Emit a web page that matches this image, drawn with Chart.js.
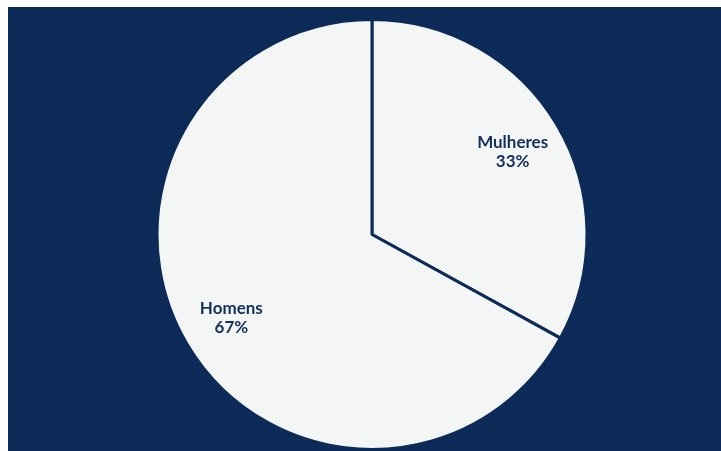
<!DOCTYPE html>
<html>
<head>
<meta charset="utf-8">
<script src="https://cdn.jsdelivr.net/npm/chart.js@4.4.0/dist/chart.umd.min.js"></script>
<style>
    html, body { margin: 0; padding: 0; background: #ffffff; }
    #wrap {
        position: absolute;
        left: 8px;
        top: 7px;
        width: 713px;
        height: 444px;
        background: #0c2b58;
    }
</style>
</head>
<body>
<div id="wrap"><canvas id="genderChart"></canvas></div>
<script>
// --- Data ---
const labels = ['Mulheres', 'Homens'];
const shares = [33, 67];

const navy = '#0c2b58';
const sliceFill = '#f4f6f6';

// Draws "name / pct%" inside each slice, along the slice's mid angle
const sliceLabels = {
    id: 'sliceLabels',
    afterDatasetsDraw(chart) {
        const { ctx } = chart;
        const meta = chart.getDatasetMeta(0);
        ctx.save();
        ctx.fillStyle = '#13305d';
        ctx.font = 'bold 17px Lato, "DejaVu Sans", sans-serif';
        ctx.textAlign = 'center';
        ctx.textBaseline = 'middle';
        meta.data.forEach((arc, i) => {
            const { x, y, startAngle, endAngle, outerRadius } = arc.getProps(['x', 'y', 'startAngle', 'endAngle', 'outerRadius'], true);
            const mid = (startAngle + endAngle) / 2;
            const r = outerRadius * 0.76;
            const cx = x + Math.cos(mid) * r;
            const cy = y + Math.sin(mid) * r;
            ctx.fillText(labels[i], cx, cy - 9);
            ctx.fillText(shares[i] + '%', cx, cy + 10);
        });
        ctx.restore();
    }
};

const chart = new Chart(document.getElementById('genderChart').getContext('2d'), {
    type: 'pie',
    data: {
        labels: labels,
        datasets: [{
            data: shares,
            backgroundColor: sliceFill,
            borderColor: navy,
            borderWidth: 3
        }]
    },
    options: {
        responsive: true,
        maintainAspectRatio: false,
        animation: false,
        layout: {
            padding: { top: 11, bottom: 0, left: 15, right: 0 }
        },
        plugins: {
            legend: { display: false },
            tooltip: { enabled: false }
        }
    },
    plugins: [sliceLabels]
});
</script>
</body>
</html>
